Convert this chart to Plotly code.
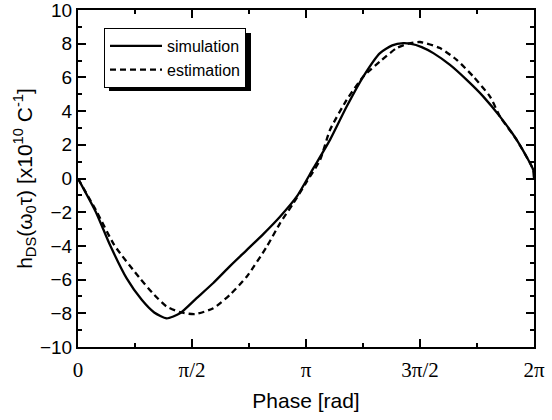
import plotly.graph_objects as go
import numpy as np

# Simulation curve (phase in rad, value in 1e10 C^-1)
sim_phase = [0.0, 0.244, 0.441, 0.671, 0.878, 1.05, 1.222, 1.405, 1.634, 1.864, 2.094, 2.324, 2.553, 2.783,
             3.013, 3.242, 3.472, 3.702, 3.931, 4.161, 4.33, 4.482, 4.575, 4.736, 4.896, 5.126, 5.356,
             5.585, 5.815, 6.045, 6.274, 6.283]
sim_value = [0.0, -1.97, -3.95, -5.93, -7.2, -7.95, -8.3, -8.0, -7.1, -6.2, -5.2, -4.25, -3.3, -2.27,
             -1.08, 0.6, 2.29, 4.27, 6.05, 7.44, 7.9, 8.03, 8.0, 7.8, 7.44, 6.74, 5.85,
             4.86, 3.67, 2.29, 0.5, 0.0]

# Estimation curve
est_phase = [0.0, 0.258, 0.5, 0.854, 1.05, 1.222, 1.42, 1.612, 1.864, 2.094, 2.324, 2.6, 2.783, 2.967,
             3.15, 3.335, 3.472, 3.702, 3.931, 4.161, 4.391, 4.55, 4.712, 4.988, 5.218, 5.447,
             5.677, 5.815, 6.045, 6.274, 6.283]
est_value = [0.0, -1.97, -3.95, -5.93, -6.9, -7.6, -7.95, -8.05, -7.7, -6.9, -5.83, -4.05, -2.66, -1.47,
             -0.2, 1.1, 2.88, 4.66, 6.05, 6.94, 7.74, 8.0, 8.1, 7.74, 7.04, 6.05,
             4.86, 3.67, 2.29, 0.5, 0.0]

x_tickvals = [0, np.pi / 2, np.pi, 3 * np.pi / 2, 2 * np.pi]
x_ticktext = ["0", "π/2", "π", "3π/2", "2π"]
y_tickvals = [-10, -8, -6, -4, -2, 0, 2, 4, 6, 8, 10]

fig = go.Figure()
fig.add_trace(go.Scatter(x=sim_phase, y=sim_value, mode="lines", name="simulation",
                         line=dict(color="black", width=2.3, shape="spline", smoothing=0.6)))
fig.add_trace(go.Scatter(x=est_phase, y=est_value, mode="lines", name="estimation",
                         line=dict(color="black", width=2.3, dash="6px,4px", shape="spline", smoothing=0.6)))

axis_common = dict(showline=True, linecolor="black", linewidth=2, mirror="ticks",
                   ticks="inside", ticklen=8, tickwidth=2, tickcolor="black",
                   showgrid=False, zeroline=False, automargin=False, ticklabeloverflow="allow")

fig.update_xaxes(range=[0, 2 * np.pi], tickvals=x_tickvals, ticktext=x_ticktext,
                 tickfont=dict(family="Liberation Serif", size=21, color="black"),
                 ticklabelstandoff=3,
                 minor=dict(ticks="inside", ticklen=4, tickwidth=2, tickcolor="black",
                            tickvals=[np.pi / 4, 3 * np.pi / 4, 5 * np.pi / 4, 7 * np.pi / 4]),
                 title=dict(text="Phase [rad]", font=dict(family="Liberation Sans", size=21, color="black"),
                            standoff=12),
                 **axis_common)
fig.update_yaxes(range=[-10, 10], tickvals=y_tickvals,
                 tickfont=dict(family="Liberation Sans", size=19, color="black"),
                 minor=dict(ticks="inside", ticklen=4, tickwidth=2, tickcolor="black", dtick=1),
                 title=dict(text="h<sub>DS</sub>(ω<sub>0</sub>τ) [x10<sup>10</sup> C<sup>-1</sup>]",
                            font=dict(family="Liberation Sans", size=21, color="black"), standoff=2),
                 **axis_common)

# legend shadow (offset 5px down-right from the legend box)
fig.add_shape(type="rect", xref="paper", yref="paper", x0=(109 - 78) / 456, x1=(251 - 78) / 456,
              y0=(347 - 91) / 337, y1=(347 - 33) / 337, fillcolor="black", line=dict(width=0), layer="below")

fig.update_layout(
    width=552, height=420,
    margin=dict(l=78, r=18, t=10, b=73),
    paper_bgcolor="white", plot_bgcolor="white",
    showlegend=True,
    legend=dict(x=(104 - 78) / 456, y=(347 - 28) / 337, xanchor="left", yanchor="top",
                bgcolor="white", bordercolor="black", borderwidth=1,
                font=dict(family="Liberation Sans", size=16, color="black"),
                itemwidth=52, tracegroupgap=0),
)

fig.write_html("out.html", config={"displayModeBar": False},
               post_script="document.body.style.margin='0';document.body.style.overflow='hidden';")
